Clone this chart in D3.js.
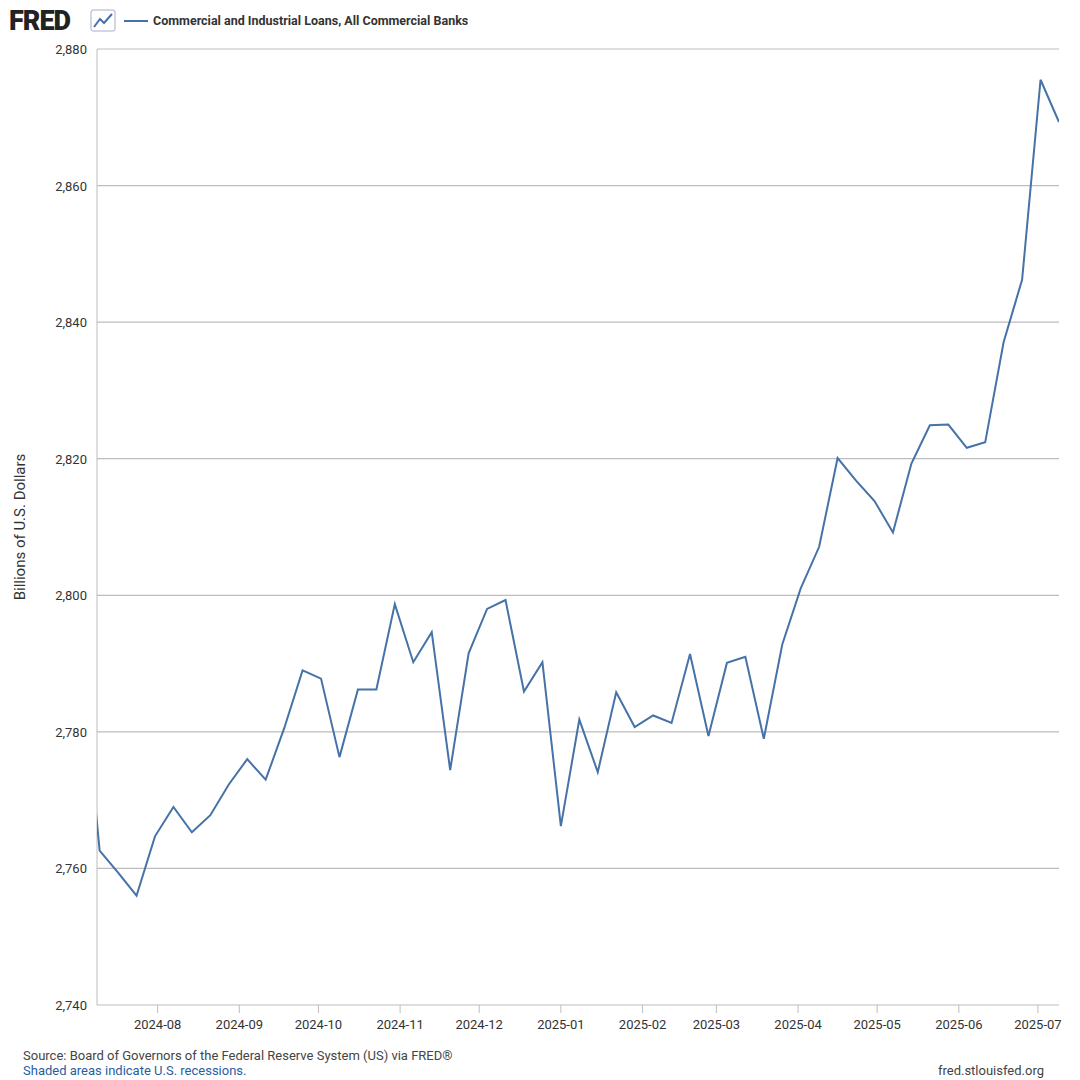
<!DOCTYPE html>
<html><head><meta charset="utf-8">
<script src="https://cdn.jsdelivr.net/npm/d3@7"></script>
<style>body{margin:0;background:#fff;font-family:Roboto,"Open Sans",Arial,sans-serif}</style>
</head><body><div id="chart"></div>
<script>
const seriesStart = '2024-07-03';
const values = [2791, 2762.6, 2759.4, 2756, 2764.7, 2769, 2765.3, 2767.8, 2772.3, 2776, 2773, 2780.5,
  2789, 2787.8, 2776.3, 2786.2, 2786.2, 2798.7, 2790.2, 2794.6, 2774.4, 2791.5, 2798, 2799.3,
  2785.9, 2790.2, 2766.2, 2781.8, 2774.1, 2785.8, 2780.7, 2782.4, 2781.3, 2791.4, 2779.4, 2790.1,
  2791, 2779, 2792.8, 2801, 2807.1, 2820.1, 2816.8, 2813.8, 2809.2, 2819.3, 2824.9, 2825,
  2821.6, 2822.4, 2837.1, 2846.2, 2875.5, 2869.3];
const yTicks = [2740, 2760, 2780, 2800, 2820, 2840, 2860, 2880];
const xTicks = ['2024-08', '2024-09', '2024-10', '2024-11', '2024-12', '2025-01', '2025-02',
  '2025-03', '2025-04', '2025-05', '2025-06', '2025-07'];

const parse = d3.utcParse('%Y-%m-%d');
const start = parse(seriesStart);
const data = values.map((v, i) => ({date: d3.utcDay.offset(start, 7 * i), value: v}));

const W = 1080, H = 1080;
const margin = {top: 49, right: 21, bottom: 75, left: 97};
const svg = d3.select('#chart').append('svg').attr('width', W).attr('height', H);

const x = d3.scaleUtc()
  .domain([parse('2024-07-09'), parse('2025-07-09')])
  .range([margin.left, W - margin.right]);
const y = d3.scaleLinear().domain([2740, 2880]).range([H - margin.bottom, margin.top]);

// grid
svg.append('g').selectAll('line').data(yTicks.slice(1)).join('line')
  .attr('x1', margin.left).attr('x2', W - margin.right)
  .attr('y1', d => y(d)).attr('y2', d => y(d))
  .attr('stroke', '#bdbdbd').attr('stroke-width', 1.2);

svg.append('g').selectAll('text').data(yTicks).join('text')
  .attr('x', margin.left - 10).attr('y', d => y(d) + 5)
  .attr('text-anchor', 'end').attr('font-size', 13).attr('fill', '#333')
  .text(d => d3.format(',')(d));

// axes lines
svg.append('line').attr('x1', margin.left).attr('x2', margin.left)
  .attr('y1', margin.top).attr('y2', H - margin.bottom).attr('stroke', '#bdbdbd');
svg.append('line').attr('x1', margin.left).attr('x2', W - margin.right)
  .attr('y1', H - margin.bottom).attr('y2', H - margin.bottom).attr('stroke', '#bdbdbd');

const xg = svg.append('g').selectAll('g').data(xTicks).join('g')
  .attr('transform', d => `translate(${x(parse(d + '-01'))},${H - margin.bottom})`);
xg.append('line').attr('y2', 8).attr('stroke', '#bdbdbd');
xg.append('text').attr('y', 24).attr('text-anchor', 'middle')
  .attr('font-size', 13).attr('fill', '#333').text(d => d);

svg.append('defs').append('clipPath').attr('id', 'clip').append('rect')
  .attr('x', margin.left).attr('y', margin.top)
  .attr('width', W - margin.left - margin.right).attr('height', H - margin.top - margin.bottom);

svg.append('path').datum(data).attr('clip-path', 'url(#clip)')
  .attr('fill', 'none').attr('stroke', '#4572a7').attr('stroke-width', 2)
  .attr('d', d3.line().x(d => x(d.date)).y(d => y(d.value)));

svg.append('text').attr('transform', `translate(25,${(margin.top + H - margin.bottom) / 2})rotate(-90)`)
  .attr('text-anchor', 'middle').attr('font-size', 15).attr('fill', '#333')
  .text('Billions of U.S. Dollars');

// header
svg.append('text').attr('x', 9).attr('y', 30).attr('font-size', 27).attr('font-weight', 900)
  .attr('fill', '#222').attr('letter-spacing', -1).text('FRED');
const ic = svg.append('g').attr('transform', 'translate(91,10)');
ic.append('rect').attr('width', 24).attr('height', 21).attr('fill', '#fff').attr('stroke', '#aac').attr('rx', 2);
ic.append('path').attr('d', 'M3,17 L9,9 L13,13 L21,4').attr('fill', 'none').attr('stroke', '#4572a7').attr('stroke-width', 2);
svg.append('line').attr('x1', 124).attr('x2', 148).attr('y1', 21).attr('y2', 21)
  .attr('stroke', '#4572a7').attr('stroke-width', 2);
svg.append('text').attr('x', 153).attr('y', 25).attr('font-size', 12.5).attr('font-weight', 'bold')
  .attr('fill', '#333').text('Commercial and Industrial Loans, All Commercial Banks');

// footer
svg.append('text').attr('x', 23).attr('y', 1060).attr('font-size', 13).attr('fill', '#444')
  .text('Source: Board of Governors of the Federal Reserve System (US) via FRED®');
svg.append('text').attr('x', 23).attr('y', 1075).attr('font-size', 13).attr('fill', '#2a5d9f')
  .text('Shaded areas indicate U.S. recessions.');
svg.append('text').attr('x', 1044).attr('y', 1075).attr('text-anchor', 'end')
  .attr('font-size', 13).attr('fill', '#444').text('fred.stlouisfed.org');
</script></body></html>
